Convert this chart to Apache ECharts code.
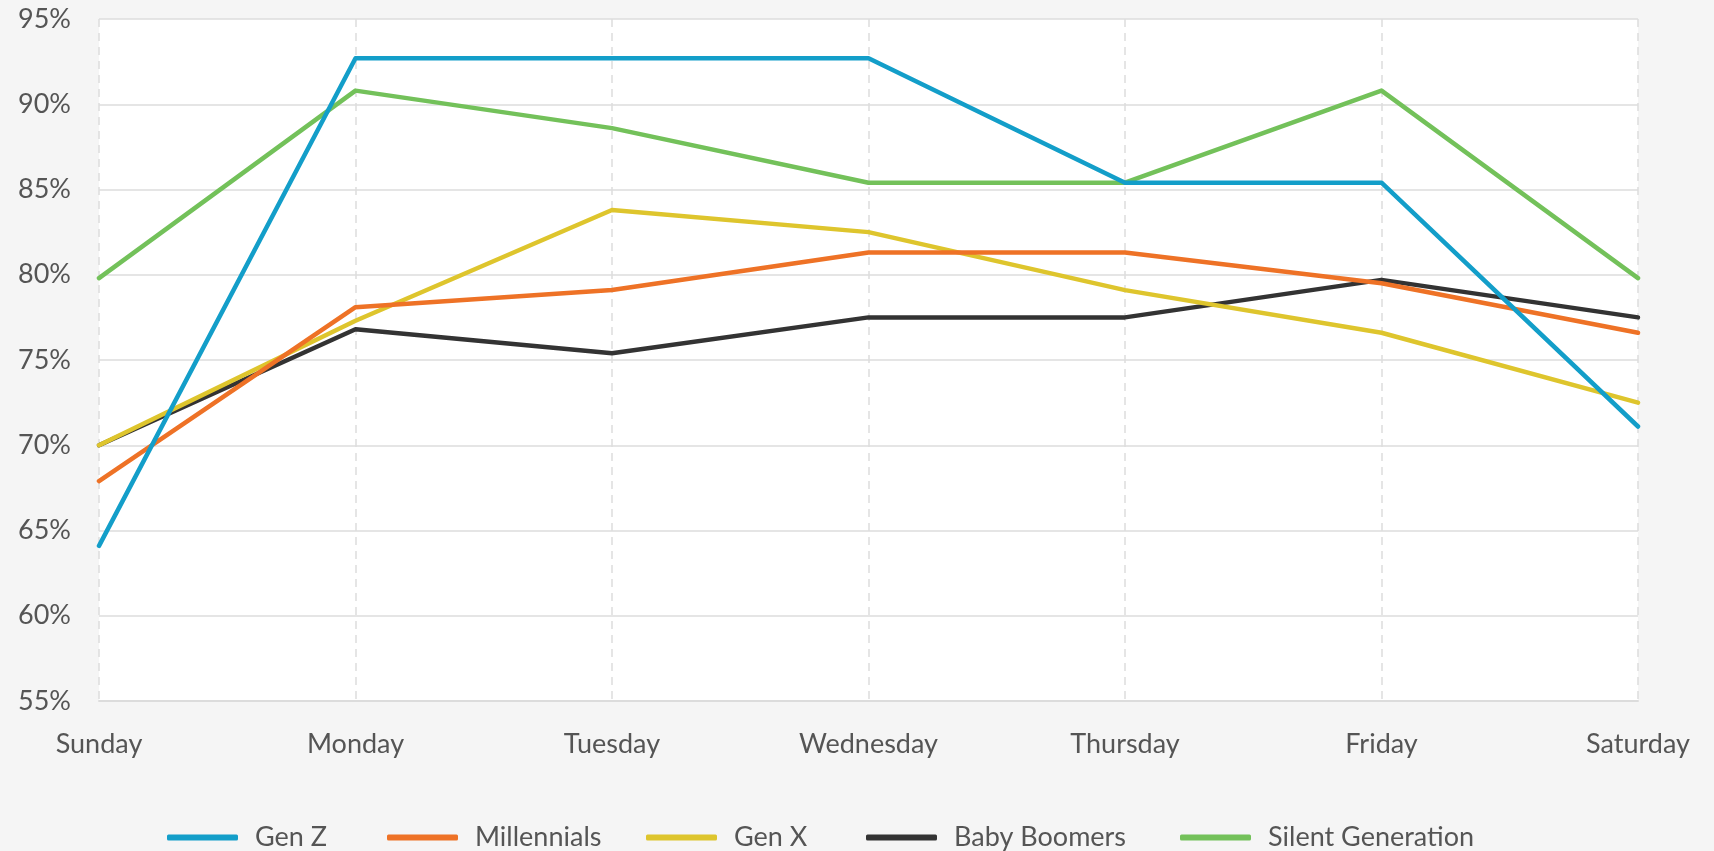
<!DOCTYPE html>
<html>
<head>
<meta charset="utf-8">
<style>
  html, body { margin: 0; padding: 0; background: #f5f5f5; }
  #chart { width: 1714px; height: 851px; }
</style>
<script src="https://cdn.jsdelivr.net/npm/echarts@6/dist/echarts.min.js"></script>
</head>
<body>
<div id="chart"></div>
<script>
const days = ['Sunday', 'Monday', 'Tuesday', 'Wednesday', 'Thursday', 'Friday', 'Saturday'];
const seriesNames = ['Gen Z', 'Millennials', 'Gen X', 'Baby Boomers', 'Silent Generation'];
const genZ = [64.1, 92.7, 92.7, 92.7, 85.4, 85.4, 71.1];
const millennials = [67.9, 78.1, 79.1, 81.3, 81.3, 79.5, 76.6];
const genX = [70.0, 77.3, 83.8, 82.5, 79.1, 76.6, 72.5];
const babyBoomers = [70.0, 76.8, 75.4, 77.5, 77.5, 79.7, 77.5];
const silentGen = [79.8, 90.8, 88.6, 85.4, 85.4, 90.8, 79.8];
const colors = ['#139ec9', '#ee7226', '#dec52d', '#333333', '#73c15a'];

const allValues = [genZ, millennials, genX, babyBoomers, silentGen];
const legendLeft = [162, 382, 641, 861, 1175];
const fontFamily = 'Lato, "Noto Sans", sans-serif';

const chart = echarts.init(document.getElementById('chart'), null, { renderer: 'canvas' });
chart.setOption({
  backgroundColor: '#f5f5f5',
  animation: false,
  color: colors,
  textStyle: { fontFamily: fontFamily },
  grid: {
    left: 99, right: 76, top: 19, bottom: 150,
    show: true, backgroundColor: '#ffffff', borderWidth: 0
  },
  legend: seriesNames.map((name, i) => ({
    data: [name],
    left: legendLeft[i],
    top: 819,
    itemWidth: 71,
    itemHeight: 6,
    icon: 'roundRect',
    textStyle: { fontSize: 27, color: '#555555', fontFamily: fontFamily, padding: [0, 0, 0, 12] }
  })),
  xAxis: {
    type: 'category',
    data: days,
    boundaryGap: false,
    axisLine: { show: true, lineStyle: { color: '#dcdcdc', width: 2 } },
    axisTick: { show: false },
    axisLabel: { fontSize: 27, color: '#555555', margin: 30, fontFamily: fontFamily },
    splitLine: { show: true, lineStyle: { color: '#dddddd', width: 1.5, type: [8, 6] } }
  },
  yAxis: {
    type: 'value',
    min: 55, max: 95, interval: 5,
    axisLine: { show: false },
    axisTick: { show: false },
    axisLabel: { formatter: '{value}%', fontSize: 27, color: '#555555', margin: 28, fontFamily: fontFamily },
    splitLine: { show: true, lineStyle: { color: '#dddddd', width: 1.5 } }
  },
  series: seriesNames.map((name, i) => ({
    name: name,
    type: 'line',
    data: allValues[i],
    symbol: 'none',
    lineStyle: { width: 4.5, color: colors[i], cap: 'round', join: 'round' },
    itemStyle: { color: colors[i] },
    z: 10 - i
  }))
});
</script>
</body>
</html>
